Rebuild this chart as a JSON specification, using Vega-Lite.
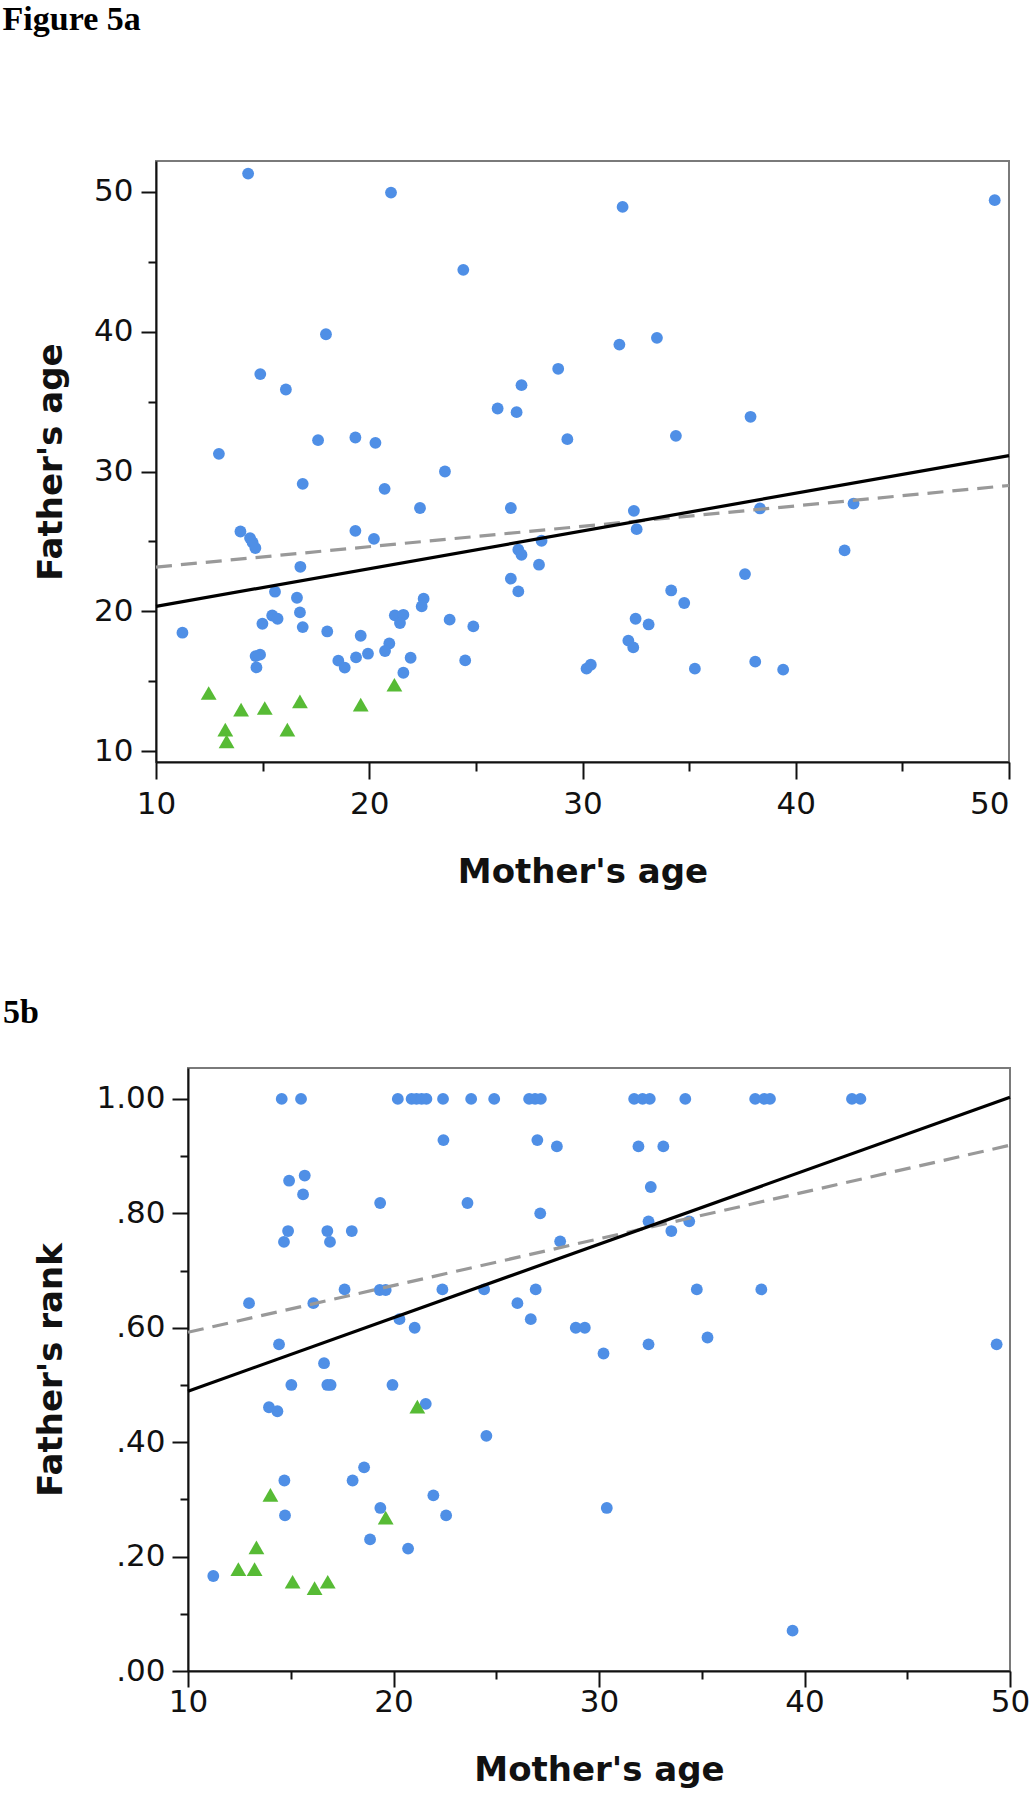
{
  "$schema": "https://vega.github.io/schema/vega-lite/v6.json",
  "padding": {"top": 2, "left": 0, "right": 0, "bottom": 0},
  "autosize": {"type": "pad"},
  "background": "white",
  "config": {
    "view": {"stroke": "#7a7a7a", "strokeWidth": 2},
    "axis": {
      "grid": false,
      "domainColor": "#111111", "domainWidth": 2,
      "tickColor": "#111111", "tickWidth": 2,
      "labelFont": "DejaVu Sans", "labelFontSize": 31, "labelColor": "#111111",
      "titleFont": "DejaVu Sans", "titleFontSize": 34, "titleFontWeight": "bold", "titleColor": "#111111",
      "labelOverlap": false, "labelBound": false, "labelFlush": false
    },
    "title": {"font": "Liberation Serif", "fontWeight": "bold", "fontSize": 34, "color": "#000000", "anchor": "start", "frame": "bounds", "baseline": "alphabetic"}
  },
  "datasets": {
    "a_pts": [
      {"mother": 14.32, "father": 51.29, "group": "adult"},
      {"mother": 21.02, "father": 49.93, "group": "adult"},
      {"mother": 24.41, "father": 44.41, "group": "adult"},
      {"mother": 17.97, "father": 39.81, "group": "adult"},
      {"mother": 14.89, "father": 36.96, "group": "adult"},
      {"mother": 16.09, "father": 35.86, "group": "adult"},
      {"mother": 26.02, "father": 34.5, "group": "adult"},
      {"mother": 26.91, "father": 34.24, "group": "adult"},
      {"mother": 27.14, "father": 36.17, "group": "adult"},
      {"mother": 28.86, "father": 37.34, "group": "adult"},
      {"mother": 17.6, "father": 32.24, "group": "adult"},
      {"mother": 19.35, "father": 32.43, "group": "adult"},
      {"mother": 20.29, "father": 32.05, "group": "adult"},
      {"mother": 29.29, "father": 32.31, "group": "adult"},
      {"mother": 12.95, "father": 31.26, "group": "adult"},
      {"mother": 23.55, "father": 30.0, "group": "adult"},
      {"mother": 31.88, "father": 48.91, "group": "adult"},
      {"mother": 49.33, "father": 49.39, "group": "adult"},
      {"mother": 31.73, "father": 39.07, "group": "adult"},
      {"mother": 33.49, "father": 39.55, "group": "adult"},
      {"mother": 37.88, "father": 33.91, "group": "adult"},
      {"mother": 34.38, "father": 32.55, "group": "adult"},
      {"mother": 16.88, "father": 29.12, "group": "adult"},
      {"mother": 20.72, "father": 28.76, "group": "adult"},
      {"mother": 22.38, "father": 27.39, "group": "adult"},
      {"mother": 26.64, "father": 27.39, "group": "adult"},
      {"mother": 13.96, "father": 25.71, "group": "adult"},
      {"mother": 14.41, "father": 25.24, "group": "adult"},
      {"mother": 14.53, "father": 24.93, "group": "adult"},
      {"mother": 14.66, "father": 24.53, "group": "adult"},
      {"mother": 19.35, "father": 25.76, "group": "adult"},
      {"mother": 20.22, "father": 25.19, "group": "adult"},
      {"mother": 28.08, "father": 25.05, "group": "adult"},
      {"mother": 26.99, "father": 24.41, "group": "adult"},
      {"mother": 27.14, "father": 24.05, "group": "adult"},
      {"mother": 27.96, "father": 23.34, "group": "adult"},
      {"mother": 16.77, "father": 23.19, "group": "adult"},
      {"mother": 26.64, "father": 22.34, "group": "adult"},
      {"mother": 26.99, "father": 21.43, "group": "adult"},
      {"mother": 15.58, "father": 21.41, "group": "adult"},
      {"mother": 16.61, "father": 20.98, "group": "adult"},
      {"mother": 22.55, "father": 20.91, "group": "adult"},
      {"mother": 22.46, "father": 20.36, "group": "adult"},
      {"mother": 16.75, "father": 19.93, "group": "adult"},
      {"mother": 21.2, "father": 19.72, "group": "adult"},
      {"mother": 21.6, "father": 19.76, "group": "adult"},
      {"mother": 21.44, "father": 19.17, "group": "adult"},
      {"mother": 15.45, "father": 19.71, "group": "adult"},
      {"mother": 15.7, "father": 19.48, "group": "adult"},
      {"mother": 14.99, "father": 19.12, "group": "adult"},
      {"mother": 16.88, "father": 18.88, "group": "adult"},
      {"mother": 23.77, "father": 19.41, "group": "adult"},
      {"mother": 24.88, "father": 18.93, "group": "adult"},
      {"mother": 11.24, "father": 18.48, "group": "adult"},
      {"mother": 18.03, "father": 18.57, "group": "adult"},
      {"mother": 19.6, "father": 18.26, "group": "adult"},
      {"mother": 20.94, "father": 17.71, "group": "adult"},
      {"mother": 20.74, "father": 17.17, "group": "adult"},
      {"mother": 19.94, "father": 16.98, "group": "adult"},
      {"mother": 19.38, "father": 16.72, "group": "adult"},
      {"mother": 21.94, "father": 16.69, "group": "adult"},
      {"mother": 18.55, "father": 16.48, "group": "adult"},
      {"mother": 18.85, "father": 15.98, "group": "adult"},
      {"mother": 14.67, "father": 16.81, "group": "adult"},
      {"mother": 14.88, "father": 16.91, "group": "adult"},
      {"mother": 14.71, "father": 16.0, "group": "adult"},
      {"mother": 21.6, "father": 15.62, "group": "adult"},
      {"mother": 24.5, "father": 16.5, "group": "adult"},
      {"mother": 30.19, "father": 15.91, "group": "adult"},
      {"mother": 30.39, "father": 16.19, "group": "adult"},
      {"mother": 32.41, "father": 27.19, "group": "adult"},
      {"mother": 32.54, "father": 25.88, "group": "adult"},
      {"mother": 38.32, "father": 27.36, "group": "adult"},
      {"mother": 42.71, "father": 27.71, "group": "adult"},
      {"mother": 42.29, "father": 24.36, "group": "adult"},
      {"mother": 37.62, "father": 22.67, "group": "adult"},
      {"mother": 34.16, "father": 21.5, "group": "adult"},
      {"mother": 34.77, "father": 20.6, "group": "adult"},
      {"mother": 32.49, "father": 19.48, "group": "adult"},
      {"mother": 33.1, "father": 19.07, "group": "adult"},
      {"mother": 32.15, "father": 17.91, "group": "adult"},
      {"mother": 32.38, "father": 17.43, "group": "adult"},
      {"mother": 35.27, "father": 15.91, "group": "adult"},
      {"mother": 38.1, "father": 16.41, "group": "adult"},
      {"mother": 39.41, "father": 15.84, "group": "adult"},
      {"mother": 12.47, "father": 14.17, "group": "juvenile"},
      {"mother": 13.99, "father": 12.98, "group": "juvenile"},
      {"mother": 15.1, "father": 13.1, "group": "juvenile"},
      {"mother": 16.75, "father": 13.57, "group": "juvenile"},
      {"mother": 19.6, "father": 13.34, "group": "juvenile"},
      {"mother": 21.18, "father": 14.76, "group": "juvenile"},
      {"mother": 13.25, "father": 11.55, "group": "juvenile"},
      {"mother": 13.31, "father": 10.72, "group": "juvenile"},
      {"mother": 16.16, "father": 11.55, "group": "juvenile"}
    ],
    "a_lines": [
      {"fit": "all", "mother": 10, "father": 20.36},
      {"fit": "all", "mother": 50, "father": 31.14},
      {"fit": "excl", "mother": 10, "father": 23.17},
      {"fit": "excl", "mother": 50, "father": 29.0}
    ],
    "b_pts": [
      {"mother": 14.56, "rank": 1.0, "group": "adult"},
      {"mother": 15.5, "rank": 1.0, "group": "adult"},
      {"mother": 20.21, "rank": 1.0, "group": "adult"},
      {"mother": 20.88, "rank": 1.0, "group": "adult"},
      {"mother": 21.12, "rank": 1.0, "group": "adult"},
      {"mother": 21.37, "rank": 1.0, "group": "adult"},
      {"mother": 21.6, "rank": 1.0, "group": "adult"},
      {"mother": 22.41, "rank": 1.0, "group": "adult"},
      {"mother": 23.78, "rank": 1.0, "group": "adult"},
      {"mother": 24.9, "rank": 1.0, "group": "adult"},
      {"mother": 26.6, "rank": 1.0, "group": "adult"},
      {"mother": 26.89, "rank": 1.0, "group": "adult"},
      {"mother": 27.17, "rank": 1.0, "group": "adult"},
      {"mother": 31.71, "rank": 1.0, "group": "adult"},
      {"mother": 32.12, "rank": 1.0, "group": "adult"},
      {"mother": 32.47, "rank": 1.0, "group": "adult"},
      {"mother": 34.2, "rank": 1.0, "group": "adult"},
      {"mother": 37.6, "rank": 1.0, "group": "adult"},
      {"mother": 38.04, "rank": 1.0, "group": "adult"},
      {"mother": 38.32, "rank": 1.0, "group": "adult"},
      {"mother": 42.31, "rank": 1.0, "group": "adult"},
      {"mother": 42.72, "rank": 1.0, "group": "adult"},
      {"mother": 22.43, "rank": 0.928, "group": "adult"},
      {"mother": 27.0, "rank": 0.928, "group": "adult"},
      {"mother": 27.95, "rank": 0.917, "group": "adult"},
      {"mother": 14.92, "rank": 0.857, "group": "adult"},
      {"mother": 15.68, "rank": 0.866, "group": "adult"},
      {"mother": 15.6, "rank": 0.833, "group": "adult"},
      {"mother": 19.35, "rank": 0.818, "group": "adult"},
      {"mother": 23.6, "rank": 0.818, "group": "adult"},
      {"mother": 27.14, "rank": 0.8, "group": "adult"},
      {"mother": 14.87, "rank": 0.769, "group": "adult"},
      {"mother": 14.67, "rank": 0.75, "group": "adult"},
      {"mother": 16.78, "rank": 0.769, "group": "adult"},
      {"mother": 16.91, "rank": 0.75, "group": "adult"},
      {"mother": 17.97, "rank": 0.769, "group": "adult"},
      {"mother": 28.11, "rank": 0.751, "group": "adult"},
      {"mother": 12.97, "rank": 0.643, "group": "adult"},
      {"mother": 16.1, "rank": 0.643, "group": "adult"},
      {"mother": 17.62, "rank": 0.667, "group": "adult"},
      {"mother": 19.33, "rank": 0.666, "group": "adult"},
      {"mother": 19.62, "rank": 0.666, "group": "adult"},
      {"mother": 22.38, "rank": 0.667, "group": "adult"},
      {"mother": 24.41, "rank": 0.667, "group": "adult"},
      {"mother": 26.03, "rank": 0.643, "group": "adult"},
      {"mother": 26.92, "rank": 0.667, "group": "adult"},
      {"mother": 26.68, "rank": 0.615, "group": "adult"},
      {"mother": 20.29, "rank": 0.615, "group": "adult"},
      {"mother": 21.03, "rank": 0.6, "group": "adult"},
      {"mother": 28.87, "rank": 0.6, "group": "adult"},
      {"mother": 29.31, "rank": 0.6, "group": "adult"},
      {"mother": 14.43, "rank": 0.571, "group": "adult"},
      {"mother": 16.62, "rank": 0.538, "group": "adult"},
      {"mother": 15.03, "rank": 0.5, "group": "adult"},
      {"mother": 16.78, "rank": 0.5, "group": "adult"},
      {"mother": 16.94, "rank": 0.5, "group": "adult"},
      {"mother": 19.95, "rank": 0.5, "group": "adult"},
      {"mother": 31.92, "rank": 0.917, "group": "adult"},
      {"mother": 33.13, "rank": 0.917, "group": "adult"},
      {"mother": 32.52, "rank": 0.846, "group": "adult"},
      {"mother": 32.41, "rank": 0.786, "group": "adult"},
      {"mother": 34.39, "rank": 0.786, "group": "adult"},
      {"mother": 33.52, "rank": 0.769, "group": "adult"},
      {"mother": 34.76, "rank": 0.667, "group": "adult"},
      {"mother": 37.9, "rank": 0.667, "group": "adult"},
      {"mother": 30.22, "rank": 0.555, "group": "adult"},
      {"mother": 32.41, "rank": 0.571, "group": "adult"},
      {"mother": 35.28, "rank": 0.583, "group": "adult"},
      {"mother": 49.35, "rank": 0.571, "group": "adult"},
      {"mother": 13.94, "rank": 0.461, "group": "adult"},
      {"mother": 14.35, "rank": 0.454, "group": "adult"},
      {"mother": 21.57, "rank": 0.467, "group": "adult"},
      {"mother": 24.52, "rank": 0.411, "group": "adult"},
      {"mother": 14.69, "rank": 0.333, "group": "adult"},
      {"mother": 18.01, "rank": 0.333, "group": "adult"},
      {"mother": 18.57, "rank": 0.356, "group": "adult"},
      {"mother": 21.94, "rank": 0.307, "group": "adult"},
      {"mother": 19.36, "rank": 0.285, "group": "adult"},
      {"mother": 14.72, "rank": 0.272, "group": "adult"},
      {"mother": 22.56, "rank": 0.272, "group": "adult"},
      {"mother": 18.86, "rank": 0.23, "group": "adult"},
      {"mother": 20.71, "rank": 0.214, "group": "adult"},
      {"mother": 11.23, "rank": 0.166, "group": "adult"},
      {"mother": 30.38, "rank": 0.285, "group": "adult"},
      {"mother": 39.42, "rank": 0.0705, "group": "adult"},
      {"mother": 21.16, "rank": 0.462, "group": "juvenile"},
      {"mother": 14.01, "rank": 0.308, "group": "juvenile"},
      {"mother": 19.62, "rank": 0.268, "group": "juvenile"},
      {"mother": 13.33, "rank": 0.216, "group": "juvenile"},
      {"mother": 12.45, "rank": 0.178, "group": "juvenile"},
      {"mother": 13.24, "rank": 0.178, "group": "juvenile"},
      {"mother": 15.09, "rank": 0.156, "group": "juvenile"},
      {"mother": 16.16, "rank": 0.145, "group": "juvenile"},
      {"mother": 16.8, "rank": 0.156, "group": "juvenile"}
    ],
    "b_lines": [
      {"fit": "all", "mother": 10, "rank": 0.489},
      {"fit": "all", "mother": 50, "rank": 1.003},
      {"fit": "excl", "mother": 10, "rank": 0.592},
      {"fit": "excl", "mother": 50, "rank": 0.919}
    ],
    "empty": []
  },
  "vconcat": [
    {
      "spacing": 0,
      "hconcat": [
        {"width": 1, "height": 1, "view": {"stroke": null}, "data": {"name": "empty"}, "mark": "point"},
        {
          "width": 853,
          "height": 601,
          "title": {"text": "Figure 5a", "dx": -32, "offset": 124},
          "layer": [
            {
              "data": {"name": "a_pts"},
              "mark": {"type": "point", "filled": true, "opacity": 1, "strokeWidth": 0},
              "encoding": {
                "x": {"field": "mother", "type": "quantitative",
                  "scale": {"domain": [10, 50], "nice": false, "zero": false},
                  "axis": {"title": "Mother's age", "values": [10, 15, 20, 25, 30, 35, 40, 45, 50],
                    "labelExpr": "datum.value % 10 === 0 ? datum.label : ''",
                    "labelAlign": {"condition": {"test": "datum.value === 50", "value": "right"}, "value": "center"},
                    "tickSize": {"condition": {"test": "datum.value % 10 === 0", "value": 17}, "value": 9},
                    "labelPadding": 10, "titlePadding": 36}},
                "y": {"field": "father", "type": "quantitative",
                  "scale": {"domain": [9.24, 52.19], "nice": false, "zero": false},
                  "axis": {"title": "Father's age", "values": [10, 15, 20, 25, 30, 35, 40, 45, 50],
                    "labelExpr": "datum.value % 10 === 0 ? datum.label : ''",
                    "tickSize": {"condition": {"test": "datum.value % 10 === 0", "value": 15}, "value": 8},
                    "labelPadding": 8, "titlePadding": 25}},
                "shape": {"field": "group", "type": "nominal", "scale": {"domain": ["adult", "juvenile"], "range": ["circle", "triangle-up"]}, "legend": null},
                "color": {"field": "group", "type": "nominal", "scale": {"domain": ["adult", "juvenile"], "range": ["#4f8fe6", "#57bb35"]}, "legend": null},
                "size": {"field": "group", "type": "nominal", "scale": {"domain": ["adult", "juvenile"], "range": [140, 250]}, "legend": null}
              }
            },
            {
              "data": {"name": "a_lines"},
              "transform": [{"filter": "datum.fit === 'excl'"}],
              "mark": {"type": "line", "color": "#999999", "strokeWidth": 3.2, "strokeDash": [16, 9]},
              "encoding": {"x": {"field": "mother", "type": "quantitative"}, "y": {"field": "father", "type": "quantitative"}}
            },
            {
              "data": {"name": "a_lines"},
              "transform": [{"filter": "datum.fit === 'all'"}],
              "mark": {"type": "line", "color": "#000000", "strokeWidth": 3.2},
              "encoding": {"x": {"field": "mother", "type": "quantitative"}, "y": {"field": "father", "type": "quantitative"}}
            }
          ]
        }
      ]
    },
    {
      "spacing": 0,
      "hconcat": [
        {"width": 1, "height": 1, "view": {"stroke": null}, "data": {"name": "empty"}, "mark": "point"},
        {
          "width": 822,
          "height": 603,
          "title": {"text": "5b", "dx": -32, "offset": 38},
          "layer": [
            {
              "data": {"name": "b_pts"},
              "mark": {"type": "point", "filled": true, "opacity": 1, "strokeWidth": 0},
              "encoding": {
                "x": {"field": "mother", "type": "quantitative",
                  "scale": {"domain": [10, 50], "nice": false, "zero": false},
                  "axis": {"title": "Mother's age", "values": [10, 15, 20, 25, 30, 35, 40, 45, 50],
                    "labelExpr": "datum.value % 10 === 0 ? datum.label : ''",
                    "tickSize": {"condition": {"test": "datum.value % 10 === 0", "value": 16}, "value": 8},
                    "labelPadding": 0, "titlePadding": 36}},
                "y": {"field": "rank", "type": "quantitative",
                  "scale": {"domain": [0, 1.054], "nice": false, "zero": false},
                  "axis": {"title": "Father's rank", "values": [0, 0.1, 0.2, 0.3, 0.4, 0.5, 0.6, 0.7, 0.8, 0.9, 1.0],
                    "labelExpr": "datum.value > 0.99 ? '1.00' : (round(datum.value * 10) % 2 === 0 ? slice(format(datum.value, '.2f'), 1) : '')",
                    "tickSize": {"condition": {"test": "round(datum.value * 10) % 2 === 0", "value": 16}, "value": 8},
                    "labelPadding": 7, "titlePadding": 27}},
                "shape": {"field": "group", "type": "nominal", "scale": {"domain": ["adult", "juvenile"], "range": ["circle", "triangle-up"]}, "legend": null},
                "color": {"field": "group", "type": "nominal", "scale": {"domain": ["adult", "juvenile"], "range": ["#4f8fe6", "#57bb35"]}, "legend": null},
                "size": {"field": "group", "type": "nominal", "scale": {"domain": ["adult", "juvenile"], "range": [130, 250]}, "legend": null}
              }
            },
            {
              "data": {"name": "b_lines"},
              "transform": [{"filter": "datum.fit === 'excl'"}],
              "mark": {"type": "line", "color": "#999999", "strokeWidth": 3.2, "strokeDash": [16, 9]},
              "encoding": {"x": {"field": "mother", "type": "quantitative"}, "y": {"field": "rank", "type": "quantitative"}}
            },
            {
              "data": {"name": "b_lines"},
              "transform": [{"filter": "datum.fit === 'all'"}],
              "mark": {"type": "line", "color": "#000000", "strokeWidth": 3.2},
              "encoding": {"x": {"field": "mother", "type": "quantitative"}, "y": {"field": "rank", "type": "quantitative"}}
            }
          ]
        }
      ]
    }
  ],
  "spacing": 105
}
